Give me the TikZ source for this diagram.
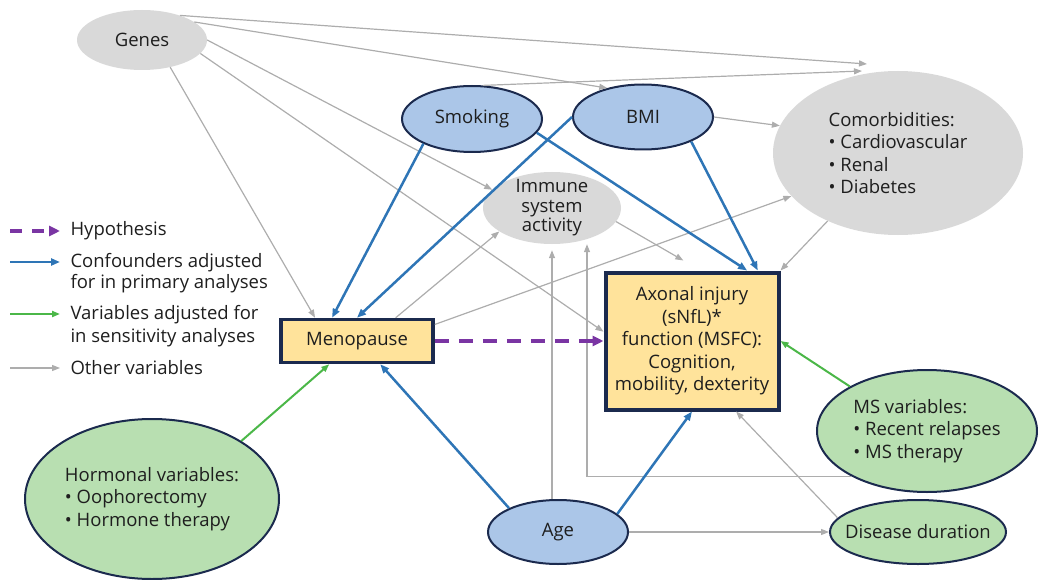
\documentclass[tikz,border=0pt]{standalone}
\usepackage{fontspec}
\setmainfont{Open Sans}
\usetikzlibrary{arrows.meta,shapes.geometric}
\definecolor{navy}{HTML}{1B2A4E}
\definecolor{greyfill}{HTML}{D9D9D9}
\definecolor{bluefill}{HTML}{ABC6E8}
\definecolor{greenfill}{HTML}{B8DFB1}
\definecolor{boxfill}{HTML}{FFE39B}
\definecolor{conf}{HTML}{2E75B6}
\definecolor{sens}{HTML}{4BB748}
\definecolor{hyp}{HTML}{7A35A3}
\definecolor{other}{HTML}{ADADAD}
\definecolor{ink}{HTML}{1E1E1E}

\begin{document}
\begin{tikzpicture}[x=1pt, y=-1pt, font=\fontsize{18.5}{22.5}\selectfont, text=ink,
    var/.style={ellipse, inner sep=0pt},
    greyvar/.style={var, fill=greyfill},
    confvar/.style={var, fill=bluefill, draw=navy, line width=2pt},
    sensvar/.style={var, fill=greenfill, draw=navy, line width=2pt},
    box/.style={rectangle, draw=navy, fill=boxfill, inner sep=0pt},
    otherarr/.style={draw=other, line width=1.2pt, -{Triangle[length=8pt,width=6pt]}},
    confarr/.style={draw=conf, line width=2.5pt, -{Triangle[length=9pt,width=7pt]}},
    sensarr/.style={draw=sens, line width=2pt, -{Triangle[length=8pt,width=6pt]}},
    hyparr/.style={draw=hyp, line width=3.5pt, dash pattern=on 14pt off 10pt, -{Triangle[length=11pt,width=10pt]}}]
    \useasboundingbox (0,0) rectangle (1038,580);
    % variables
    \node[greyvar, minimum width=130pt, minimum height=60pt] (genes) at (142,40) {Genes};
    \node[confvar, minimum width=140pt, minimum height=66pt] (smoking) at (472,119) {Smoking};
    \node[confvar, minimum width=140pt, minimum height=65pt] (bmi) at (643,117) {BMI};
    \node[greyvar, minimum width=250pt, minimum height=164pt, align=left] (comorb) at (898,153) {Comorbidities:\\• Cardiovascular\\• Renal\\• Diabetes};
    \node[greyvar, minimum width=138pt, minimum height=72pt, inner ysep=-8pt, align=center, font=\fontsize{18.5}{19.5}\selectfont] (immune) at (552,208) {Immune\\system\\activity};
    \node[box, line width=3.5pt, minimum width=152pt, minimum height=43pt] (menopause) at (357,341) {Menopause};
    \node[box, line width=4pt, minimum width=173pt, minimum height=137pt, align=center] (axonal) at (692,341) {Axonal injury\\(sNfL)*\\function (MSFC):\\Cognition,\\mobility, dexterity};
    \node[sensvar, minimum width=254pt, minimum height=160pt, align=left] (hormonal) at (152,499) {Hormonal variables:\\• Oophorectomy\\• Hormone therapy};
    \node[confvar, minimum width=140pt, minimum height=64pt] (age) at (558,532) {Age};
    \node[sensvar, minimum width=220pt, minimum height=122pt, align=left] (ms) at (927,431) {MS variables:\\• Recent relapses\\• MS therapy};
    \node[sensvar, minimum width=176pt, minimum height=64pt, inner xsep=-16pt] (disease) at (918,532) {Disease duration};
    \coordinate (cmtop) at (867,64);
    \coordinate (cmlow) at (862,71);
    % other variables
    \draw[otherarr] (genes.33) -- (cmtop);
    \draw[otherarr] (genes.19) -- (bmi.141);
    \draw[otherarr] (genes.0) -- (immune.163);
    \draw[otherarr] (genes.-13) -- (axonal.174);
    \draw[otherarr] (genes.-44) -- (menopause.151);
    \draw[otherarr] (smoking.72) -- (cmlow);
    \draw[otherarr] (bmi.east) -- (comorb.167);
    \draw[otherarr] (comorb.224) -- (axonal.north east);
    \draw[otherarr] (menopause.12) -- (comorb.202);
    \draw[otherarr] (menopause.31) -- (immune.204);
    \draw[otherarr] (immune.348) -- ([yshift=10pt]axonal.97);
    \draw[otherarr] (age.east) -- (disease.west);
    \draw[otherarr] (disease.170) -- (axonal.-58);
    \draw[otherarr, shorten >=6pt] (age.north -| immune.south) -- (immune.south);
    \draw[otherarr] (ms.211) -| ([xshift=35pt]immune.south);
    % confounders
    \draw[confarr] (smoking.207) -- (menopause.137);
    \draw[confarr] (bmi.west) -- (menopause.north);
    \draw[confarr] (smoking.-12) -- (axonal.52);
    \draw[confarr] (bmi.-27) -- (axonal.47);
    \draw[confarr] (age.154) -- (menopause.-45);
    \draw[confarr] (age.17) -- (axonal.south);
    % sensitivity
    \draw[sensarr] (hormonal.33) -- (menopause.220);
    \draw[sensarr] (ms.150) -- (axonal.east);
    % hypothesis
    \draw[hyparr] (menopause.east) -- (axonal.west);
    % legend
    \foreach \y/\k in {231/hyp, 262/conf, 314/sens, 368/other} {
      \coordinate (l\k a) at (10,\y);
      \coordinate (l\k b) at (60,\y);
    }
    \draw[hyparr, dash pattern=on 12pt off 10pt] (lhypa) -- (lhypb);
    \draw[confarr] (lconfa) -- (lconfb);
    \draw[sensarr] (lsensa) -- (lsensb);
    \draw[otherarr] (lothera) -- (lotherb);
    \node[anchor=west] (keyhyp) at (67,231) {Hypothesis};
    \node[anchor=west, align=left, font=\fontsize{18.5}{21.5}\selectfont] (keyconf) at (67,273) {Confounders adjusted\\for in primary analyses};
    \node[anchor=west, align=left, font=\fontsize{18.5}{22.5}\selectfont] (keysens) at (67,326) {Variables adjusted for\\in sensitivity analyses};
    \node[anchor=west] (keyother) at (67,368) {Other variables};
\end{tikzpicture}
\end{document}
